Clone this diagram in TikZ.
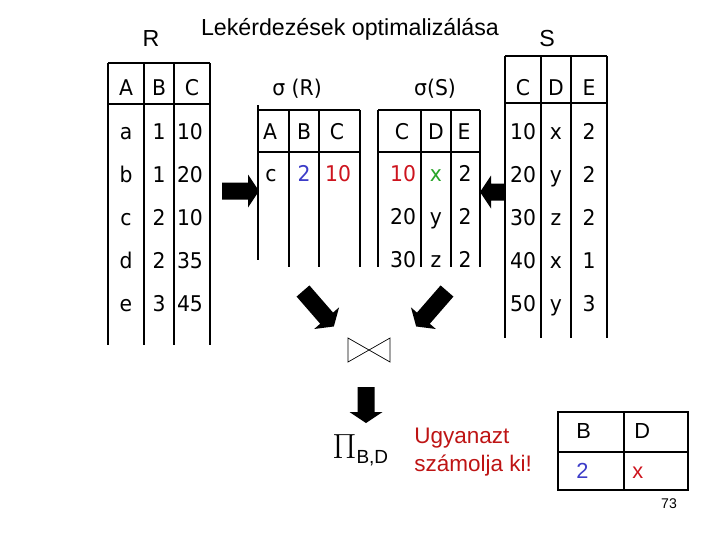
\documentclass[tikz,border=0pt]{standalone}
\usepackage{fontspec}
\setmainfont{Liberation Sans}
\newfontfamily\tabfont{DejaVu Sans}[FakeStretch=0.94]
\usepackage{tikz}
\definecolor{valblue}{RGB}{60,60,200}
\definecolor{valred}{RGB}{205,20,30}
\definecolor{valgreen}{RGB}{40,165,40}
\definecolor{noteRed}{RGB}{190,20,20}

\begin{document}
\begin{tikzpicture}[
    x=0.025cm, y=-0.025cm,
    cell/.style={
        font=\tabfont\fontsize{15.4}{18}\selectfont,
        inner sep=0pt, anchor=base
    },
    grid/.style={
        line width=0.75pt
    },
    blockarrow/.pic={
        \fill (0,-8.5) -- (#1-11,-8.5) -- (#1-11,-16.5) -- (#1,0)
            -- (#1-11,16.5) -- (#1-11,8.5) -- (0,8.5) -- cycle;
    },
    head/.style={
        font=\fontsize{16.5}{19}\selectfont, inner sep=0pt, anchor=base
    },
    note/.style={
        font=\fontsize{16}{19.8}\selectfont, text=noteRed,
        align=left, inner sep=0pt
    },
    res/.style={
        font=\fontsize{15.5}{18}\selectfont, inner sep=0pt, anchor=base west
    }
]
\useasboundingbox (0,0) rectangle (720,540);

\node[head] (title) at (350,35) {Lekérdezések optimalizálása};
\node[head] (nameR) at (151,46) {R};
\node[head] (nameS) at (547,46) {S};

% table R
\draw[grid] (108,63) -- (210,63) (108,104) -- (210,104);
\foreach \x in {108,144,174,210} \draw[grid] (\x,63) -- (\x,345);
\node[cell] (rA) at (126,95) {A};
\node[cell] (rB) at (159,95) {B};
\node[cell] (rC) at (192,95) {C};
\foreach \a/\b/\c [count=\i from 0] in {a/1/10, b/1/20, c/2/10, d/2/35, e/3/45} {
    \node[cell] (r-\i-a) at (126,139+43*\i) {\a};
    \node[cell] (r-\i-b) at (159,139+43*\i) {\b};
    \node[cell] (r-\i-c) at (190,139+43*\i) {\c};
}

% sigma(R)
\node[cell] (selRname) at (297,95) {σ (R)};
\draw[grid] (258,110) -- (360,110) (258,152) -- (360,152);
\draw[grid] (258,105) -- (258,260);
\foreach \x in {289,319,360} \draw[grid] (\x,110) -- (\x,267);
\node[cell] (selRA) at (270,139) {A};
\node[cell] (selRB) at (304,139) {B};
\node[cell] (selRC) at (337,139) {C};
\node[cell] (selR-a) at (271,181) {c};
\node[cell, text=valblue] (selR-b) at (304,181) {2};
\node[cell, text=valred] (selR-c) at (338,181) {10};

% sigma(S)
\node[cell] (selSname) at (435,95) {σ(S)};
\draw[grid] (378,110) -- (480,110) (378,152) -- (480,152);
\foreach \x in {378,421,451,480} \draw[grid] (\x,110) -- (\x,267);
\node[cell] (selSC) at (402,139) {C};
\node[cell] (selSD) at (436,139) {D};
\node[cell] (selSE) at (464,139) {E};
\node[cell, text=valred] (selS-0-c) at (403,181) {10};
\node[cell, text=valgreen] (selS-0-d) at (436,181) {x};
\node[cell] (selS-0-e) at (465,181) {2};
\foreach \c/\d/\e [count=\i] in {20/y/2, 30/z/2} {
    \node[cell] (selS-\i-c) at (403,181+43*\i) {\c};
    \node[cell] (selS-\i-d) at (436,181+43*\i) {\d};
    \node[cell] (selS-\i-e) at (465,181+43*\i) {\e};
}

% table S
\draw[grid] (505,56) -- (607,56) (505,103) -- (607,103);
\foreach \x in {505,541,571,607} \draw[grid] (\x,56) -- (\x,338);
\node[cell] (sC) at (523,95) {C};
\node[cell] (sD) at (556,95) {D};
\node[cell] (sE) at (589,95) {E};
\foreach \c/\d/\e [count=\i from 0] in {10/x/2, 20/y/2, 30/z/2, 40/x/1, 50/y/3} {
    \node[cell] (s-\i-c) at (523,139+43*\i) {\c};
    \node[cell] (s-\i-d) at (556,139+43*\i) {\d};
    \node[cell] (s-\i-e) at (589,139+43*\i) {\e};
}

% block arrows
\coordinate (fromR) at (222,191);
\coordinate (fromS) at (505,192);
\coordinate (selRout) at (303,291);
\coordinate (selSout) at (447,291);
\coordinate (joinOut) at (366,387);
\pic at (fromR) {blockarrow=37};
\pic[rotate=180] at (fromS) {blockarrow=25};
\pic[rotate=-49] at (selRout) {blockarrow=47};
\pic[rotate=-131] at (selSout) {blockarrow=47};
\pic[rotate=-90] at (joinOut) {blockarrow=36};

% join
\draw[line width=0.5pt] (348,338) -- (390,362) -- (390,338) -- (348,362) -- cycle;

% projection
\node[anchor=base west, inner sep=0pt] (proj) at (332,458)
    {\fontsize{23}{26}\selectfont$\Pi$\raisebox{-4.2pt}{\fontsize{13.5}{15}\selectfont B,D}};
\node[note, anchor=north west] (hint) at (414,428) {Ugyanazt\\számolja ki!};

% result
\draw[line width=1.4pt] (558,412) rectangle (688,490);
\draw[line width=1.4pt] (624,412) -- (624,490) (558,452) -- (688,452);
\node[res] (resB) at (576,438) {B};
\node[res] (resD) at (634,438) {D};
\node[res, text=valblue] (res-b) at (576,478) {2};
\node[res, text=valred] (res-d) at (632,478) {x};

\node[font=\fontsize{10}{12}\selectfont, anchor=base] (pageno) at (669,508) {73};
\end{tikzpicture}
\end{document}
